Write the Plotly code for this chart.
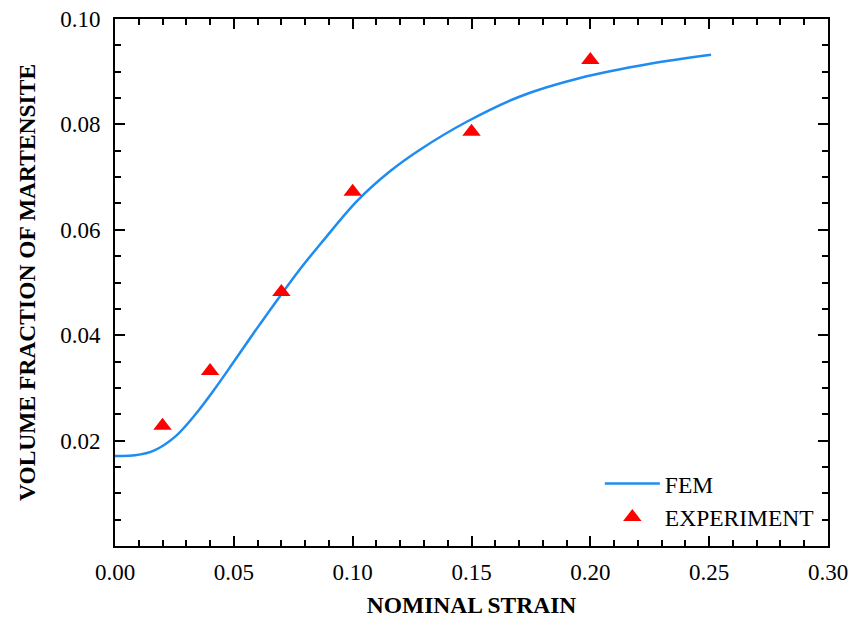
import plotly.graph_objects as go

# FEM curve
fem_x = [0, 0.0084, 0.0168, 0.0252, 0.0337, 0.0421, 0.0505, 0.0610, 0.0771, 0.0877,
         0.1017, 0.1157, 0.1283, 0.1480, 0.1704, 0.1957, 0.2251, 0.2508]
fem_y = [0.0171, 0.0172, 0.0182, 0.0207, 0.0249, 0.0299, 0.0353, 0.0421, 0.0521, 0.0580,
         0.0654, 0.0711, 0.0752, 0.0805, 0.0853, 0.0888, 0.0915, 0.0932]

# Experiment
exp_x = [0.02, 0.04, 0.07, 0.10, 0.15, 0.20]
exp_y = [0.0228, 0.0332, 0.0482, 0.0672, 0.0786, 0.0922]

y_ticks = [0.02, 0.04, 0.06, 0.08, 0.10]
y_labels = ["0.02", "0.04", "0.06", "0.08", "0.10"]
x_ticks = [0.0, 0.05, 0.10, 0.15, 0.20, 0.25, 0.30]
x_labels = ["0.00", "0.05", "0.10", "0.15", "0.20", "0.25", "0.30"]

font = "Liberation Serif"
FS_TICK = 23
FS_TITLE = 23.5

fig = go.Figure()
fig.add_trace(go.Scatter(x=fem_x, y=fem_y, mode="lines", name="FEM",
                         line=dict(color="#1E8CF0", width=2.5, shape="spline", smoothing=1.0)))
fig.add_trace(go.Scatter(x=exp_x, y=exp_y, mode="markers", name="EXPERIMENT",
                         marker=dict(symbol="triangle-up", color="#FF0000", size=16)))

axis_common = dict(showline=True, linecolor="black", linewidth=2, mirror="ticks",
                   ticks="inside", ticklen=10, tickwidth=1.5, tickcolor="black",
                   showgrid=False, zeroline=False, automargin=False,
                   tickfont=dict(family=font, size=FS_TICK, color="black"))

fig.update_xaxes(range=[0, 0.30], tickvals=x_ticks, ticktext=x_labels,
                 minor=dict(ticks="inside", dtick=0.01, tick0=0, ticklen=6, tickwidth=1.5,
                            tickcolor="black", showgrid=False),
                 ticklabelstandoff=4,
                 title=dict(text="<b>NOMINAL STRAIN</b>", font=dict(family=font, size=FS_TITLE, color="black"),
                            standoff=22),
                 **axis_common)
fig.update_yaxes(range=[0, 0.10], tickvals=y_ticks, ticktext=y_labels,
                 minor=dict(ticks="inside", dtick=0.005, tick0=0, ticklen=6, tickwidth=1.5,
                            tickcolor="black", showgrid=False),
                 ticklabelstandoff=8,
                 title=dict(text="<b>VOLUME FRACTION OF MARTENSITE</b>",
                            font=dict(family=font, size=FS_TITLE, color="black"), standoff=18),
                 **axis_common)

fig.update_layout(
    width=850, height=618,
    margin=dict(l=115, r=22, t=19, b=72),
    plot_bgcolor="white", paper_bgcolor="white",
    font=dict(family=font, color="black"),
    legend=dict(x=0.68, y=0.16, xanchor="left", yanchor="top",
                bgcolor="rgba(0,0,0,0)", font=dict(family=font, size=FS_TITLE, color="black"),
                itemwidth=55, tracegroupgap=0),
)

fig.write_html("out.html", config={"displayModeBar": False},
               post_script="document.body.style.margin='0';")
